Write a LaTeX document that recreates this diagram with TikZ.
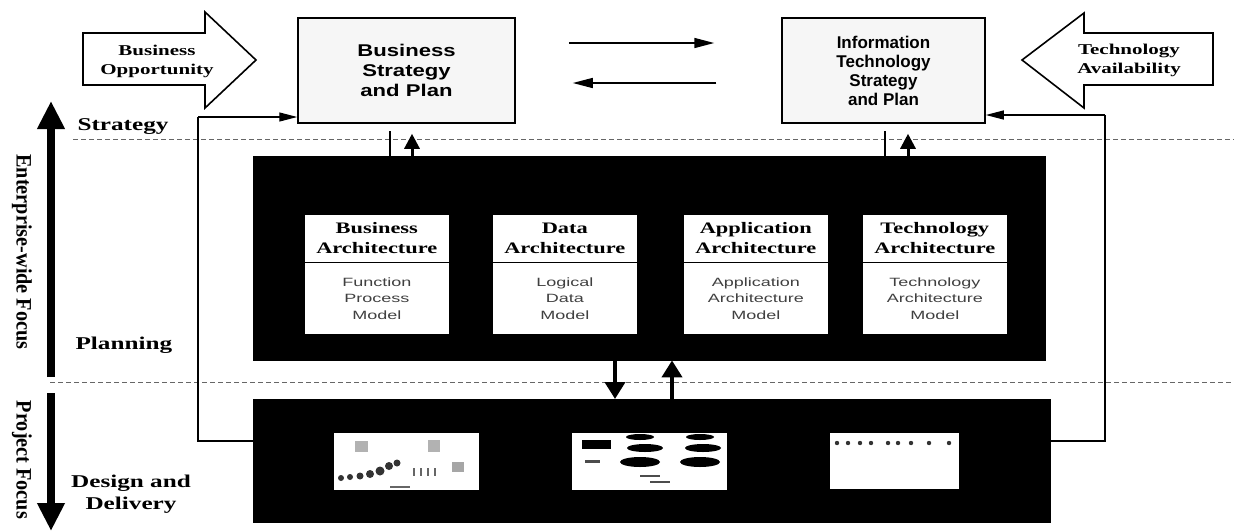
\documentclass[tikz,border=0pt]{standalone}
\usepackage{fontspec}
\usetikzlibrary{arrows.meta,calc}
\newfontfamily\wideserif[FakeStretch=1.4]{Liberation Serif}
\newfontfamily\rotserif[FakeStretch=0.92]{Liberation Serif}
\newfontfamily\widesans[FakeStretch=1.3]{Liberation Sans}
\newfontfamily\plainsans{Liberation Sans}
\newfontfamily\lightsans[FakeStretch=1.5]{Liberation Sans}
\tikzset{
  topbox/.style={draw, line width=1.5pt, fill=gray!7, align=center, inner sep=0pt},
  blackbox/.style={fill=black, draw=black, anchor=north west, inner sep=0pt},
  archhead/.style={fill=white, draw=black, line width=0.6pt, anchor=north west, inner sep=0pt,
     minimum width=145pt, minimum height=48pt, align=center,
     font=\wideserif\bfseries\fontsize{16}{20}\selectfont},
  archbody/.style={fill=white, draw=black, line width=0.6pt, anchor=north west, inner sep=0pt,
     minimum width=145pt, minimum height=72pt, align=center, text=black!75,
     font=\lightsans\fontsize{12}{16.5}\selectfont},
  imgbox/.style={fill=white, draw=black, anchor=north west, inner sep=0pt},
  arrtext/.style={align=center, font=\wideserif\bfseries\fontsize{15}{19}\selectfont},
  sidelabel/.style={align=center, font=\wideserif\bfseries\fontsize{18}{22}\selectfont},
  rotlabel/.style={rotate=-90, font=\rotserif\bfseries\fontsize{22}{24}\selectfont},
  outlinearrow/.style={draw=black, line width=1.6pt, fill=white, line join=miter},
  fb/.style={draw=black, line width=1.2pt, -{Triangle[length=18pt,width=9pt]}},
  fbline/.style={draw=black, line width=1.2pt},
  thinarr/.style={draw=black, line width=1.5pt, -{Triangle[length=20pt,width=10pt]}},
  thickarr/.style={draw=black, line width=3pt, -{Triangle[length=15pt,width=15pt]}},
  bigarr/.style={draw=black, line width=4pt, -{Triangle[length=17pt,width=20pt]}},
  focusarr/.style={draw=black, line width=8pt, -{Triangle[length=28pt,width=26pt]}},
  divider/.style={draw=black!60, line width=0.9pt, dash pattern=on 5pt off 3pt},
}
\begin{document}
\begin{tikzpicture}[x=1pt,y=-1pt]
\useasboundingbox (0,0) rectangle (1234,531);

% dashed dividers
\coordinate (d1a) at (73,139);  \coordinate (d1b) at (1234,139);
\coordinate (d2a) at (50,382);  \coordinate (d2b) at (1234,382);
\draw[divider] (d1a) -- (d1b);
\draw[divider] (d2a) -- (d2b);

% top boxes
\node[topbox, minimum width=217pt, minimum height=105pt,
      font=\widesans\bfseries\fontsize{17}{20}\selectfont] (bsp) at (406.5,70.5)
      {Business\\Strategy\\and Plan};
\node[topbox, minimum width=203pt, minimum height=105pt,
      font=\plainsans\bfseries\fontsize{17}{19}\selectfont] (itp) at (883.5,70.5)
      {Information\\Technology\\Strategy\\and Plan};

% outline arrows
\draw[outlinearrow] (83,33) -- (205,33) -- (205,12) -- (256,60) -- (205,108) -- (205,85) -- (83,85) -- cycle;
\node[arrtext] (bo) at (157,61) {Business\\Opportunity};
\draw[outlinearrow] (1213,33) -- (1084,33) -- (1084,13) -- (1022,60) -- (1084,108) -- (1084,85) -- (1213,85) -- cycle;
\node[arrtext] (ta) at (1129,60) {Technology\\Availability};

% arrows between top boxes
\coordinate (ya) at (0,43);
\coordinate (yb) at (0,83);
\draw[thinarr, shorten <=53pt, shorten >=67pt] (bsp.east |- ya) -- (itp.west |- ya);
\draw[thinarr, shorten <=65pt, shorten >=57pt] (itp.west |- yb) -- (bsp.east |- yb);

% black boxes
\node[blackbox, minimum width=792pt, minimum height=204pt] (pl) at (253,156) {};
\node[blackbox, minimum width=797pt, minimum height=123pt] (dl) at (253,399) {};

% architecture boxes
\node[archhead] (bah) at (304,214) {Business\\Architecture};
\node[archbody] (bab) at (304,262) {Function\\Process\\Model};
\node[archhead] (dah) at (492,214) {Data\\Architecture};
\node[archbody] (dab) at (492,262) {Logical\\Data\\Model};
\node[archhead] (aah) at (683,214) {Application\\Architecture};
\node[archbody] (aab) at (683,262) {Application\\Architecture\\Model};
\node[archhead] (tah) at (862,214) {Technology\\Architecture};
\node[archbody] (tab) at (862,262) {Technology\\Architecture\\Model};

% image boxes in delivery
\node[imgbox, minimum width=146pt, minimum height=58pt] (im1) at (333,432) {};
\node[imgbox, minimum width=156pt, minimum height=58pt] (im2) at (571,432) {};
\node[imgbox, minimum width=130pt, minimum height=57pt] (im3) at (829,432) {};
% small picture contents
\fill[gray!60] (355,441) rectangle (368,452);
\fill[gray!60] (428,440) rectangle (440,452);
\fill[gray!70] (452,462) rectangle (464,472);
\foreach \xx/\yy/\rr in {341/478/3,350/477/3,360/476/3.5,370/474/4,380/471/4.5,389/466/4,397/463/3.5}
  \fill[black!80] (\xx,\yy) circle (\rr);
\foreach \xx in {413,420,427,434}
  \fill[black!60] (\xx,468) rectangle ++(2,8);
\fill[black!60] (390,486) rectangle (410,488);
\fill[black] (582,440) rectangle (611,449);
\fill[black] (640,437) ellipse (14 and 3);
\fill[black] (700,437) ellipse (14 and 3);
\fill[black] (645,448) ellipse (18 and 4);
\fill[black] (703,448) ellipse (18 and 4);
\fill[black] (640,462) ellipse (20 and 5);
\fill[black] (700,462) ellipse (20 and 5);
\fill[black!70] (585,460) rectangle (600,463);
\fill[black!70] (640,475) rectangle (660,477);
\fill[black!70] (650,481) rectangle (670,483);
\foreach \xx in {837,848,860,871,888,898,911,929,949}
  \fill[black!80] (\xx,443) circle (2.2);

% feedback loops
\coordinate (fl1) at (198,441);
\coordinate (fl2) at (198,117);
\coordinate (fr1) at (1105,441);
\coordinate (fr2) at (1105,115);
\draw[fbline] (dl.west |- fl1) -- (fl1) -- (fl2);
\draw[fb] (fl2) -- (bsp.west |- fl2);
\draw[fbline] (dl.east |- fr1) -- (fr1) -- (fr2);
\draw[fb] (fr2) -- (itp.east |- fr2);

% planning <-> strategy
\coordinate (xb1) at (390,0);
\coordinate (xb2) at (412,0);
\coordinate (xi1) at (885,0);
\coordinate (xi2) at (908,0);
\draw[line width=1.2pt, shorten >=7pt] (pl.north -| xb1) -- (bsp.south -| xb1);
\draw[thickarr, shorten >=10pt] (pl.north -| xb2) -- (bsp.south -| xb2);
\draw[line width=1.2pt, shorten >=7pt] (pl.north -| xi1) -- (itp.south -| xi1);
\draw[thickarr, shorten >=10pt] (pl.north -| xi2) -- (itp.south -| xi2);

% planning <-> delivery
\coordinate (xd1) at (615,0);
\coordinate (xd2) at (672,0);
\draw[bigarr] (pl.south -| xd1) -- (dl.north -| xd1);
\draw[bigarr] (dl.north -| xd2) -- (pl.south -| xd2);

% left labels
\node[sidelabel, anchor=west] (ls) at (74,127) {Strategy};
\node[sidelabel, anchor=west] (lp) at (72,345) {Planning};
\node[sidelabel] (ld) at (131,494) {Design and\\Delivery};

% focus arrows
\coordinate (fa1) at (51,377);
\coordinate (fa2) at (51,101);
\coordinate (fb1) at (51,393);
\coordinate (fb2) at (51,531);
\draw[focusarr] (fa1) -- (fa2);
\draw[focusarr] (fb1) -- (fb2);
\node[rotlabel] (ef) at (22,252) {Enterprise-wide Focus};
\node[rotlabel] (pf) at (22,460) {Project Focus};
\end{tikzpicture}
\end{document}
